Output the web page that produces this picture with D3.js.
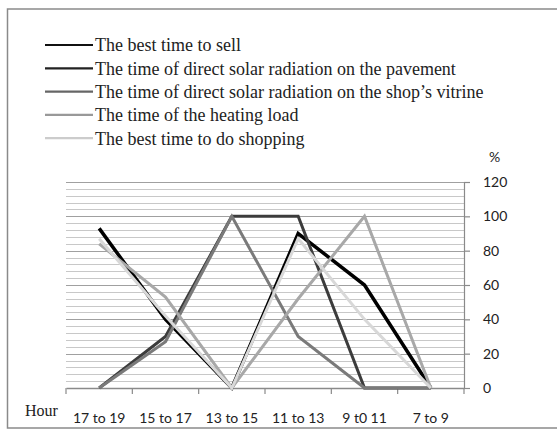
<!DOCTYPE html>
<html>
<head>
<meta charset="utf-8">
<script src="https://cdn.jsdelivr.net/npm/d3@7"></script>
<style>
  body { margin: 0; background: #fff; }
  svg { display: block; }
</style>
</head>
<body>
<div id="chart"></div>
<script>
(function () {
    // data
    var categories = ["17 to 19", "15 to 17", "13 to 15", "11 to 13", "9 t0 11", "7 to 9"];
    var seriesNames = [
        "The best time to sell",
        "The time of direct solar radiation on the pavement",
        "The time of direct solar radiation on the shop\u2019s vitrine",
        "The time of the heating load",
        "The best time to do shopping"
    ];
    var sellValues = [93, 40, 0, 90, 60, 0];
    var pavementValues = [0, 30, 100, 100, 0, 0];
    var vitrineValues = [0, 27, 100, 30, 0, 0];
    var heatingValues = [84, 53, 0, 52, 100, 0];
    var shoppingValues = [87, 42, 0, 87, 40, 0];
    var yTicks = [0, 20, 40, 60, 80, 100, 120];

    var seriesValues = [sellValues, pavementValues, vitrineValues, heatingValues, shoppingValues];
    var lineColors = ["#000000", "#3c3c3c", "#7a7a7a", "#a8a8a8", "#d8d8d8"];
    var legendColors = ["#111111", "#222222", "#666666", "#999999", "#cccccc"];

    var width = 557, height = 430;
    var left = 66, right = 464, top = 182, bottom = 388;

    var svg = d3.select("#chart").append("svg")
        .attr("width", width)
        .attr("height", height);

    // outer frame
    svg.append("rect")
        .attr("x", 7.5).attr("y", 9)
        .attr("width", 560).attr("height", 419)
        .attr("fill", "none")
        .attr("stroke", "#8a8a8a")
        .attr("stroke-width", 1.5);

    var x = d3.scaleBand().domain(categories).range([left, right]);
    var y = d3.scaleLinear().domain([0, 120]).range([bottom, top]);

    // gridlines, a minor one every 4 units
    var minor = d3.range(4, 121, 4);
    svg.append("g").selectAll("line")
        .data(minor)
        .enter().append("line")
        .attr("x1", left).attr("x2", right)
        .attr("y1", function (d) { return Math.round(y(d)) + 0.5; })
        .attr("y2", function (d) { return Math.round(y(d)) + 0.5; })
        .attr("stroke", function (d) { return d % 20 === 0 ? "#a0a0a0" : "#c8c8c8"; })
        .attr("stroke-width", 1.2);

    // right value axis
    var yAxis = svg.append("g")
        .attr("transform", "translate(" + right + ",0)")
        .call(d3.axisRight(y).tickValues(yTicks).tickSize(6).tickPadding(13));
    yAxis.select(".domain").attr("stroke", "#8a8a8a").attr("stroke-width", 1.2);
    yAxis.selectAll(".tick line").attr("stroke", "#8a8a8a").attr("stroke-width", 1.2);
    yAxis.selectAll("text")
        .attr("fill", "#222")
        .style("font-family", "Lato, 'Open Sans', sans-serif")
        .style("font-size", "14px");

    // category axis
    var xAxis = svg.append("g")
        .attr("transform", "translate(0," + bottom + ")")
        .call(d3.axisBottom(x).tickSize(0).tickPadding(25));
    xAxis.select(".domain").attr("stroke", "#8a8a8a").attr("stroke-width", 1.5);
    xAxis.selectAll("text")
        .attr("fill", "#222")
        .style("font-family", "Lato, 'Open Sans', sans-serif")
        .style("font-size", "14px");

    var bounds = categories.map(function (c) { return x(c); }).concat([right]);
    svg.append("g").selectAll("line")
        .data(bounds)
        .enter().append("line")
        .attr("x1", function (d) { return d; })
        .attr("x2", function (d) { return d; })
        .attr("y1", bottom).attr("y2", bottom + 6)
        .attr("stroke", "#8a8a8a")
        .attr("stroke-width", 1.2);

    // lines
    var line = d3.line()
        .x(function (d, i) { return x(categories[i]) + x.bandwidth() / 2; })
        .y(function (d) { return y(d); });

    svg.append("g").selectAll("path")
        .data(seriesValues)
        .enter().append("path")
        .attr("d", line)
        .attr("fill", "none")
        .attr("stroke", function (d, i) { return lineColors[i]; })
        .attr("stroke-width", function (d, i) { return i === 0 ? 3.5 : 3; })
        .attr("stroke-linejoin", "miter");

    // legend
    var legend = svg.append("g").selectAll("g")
        .data(seriesNames)
        .enter().append("g")
        .attr("transform", function (d, i) { return "translate(0," + (45 + i * 23.3) + ")"; });
    legend.append("line")
        .attr("x1", 45).attr("x2", 93)
        .attr("y1", 0).attr("y2", 0)
        .attr("stroke", function (d, i) { return legendColors[i]; })
        .attr("stroke-width", 2.2);
    legend.append("text")
        .attr("x", 95).attr("y", 0)
        .attr("dy", "0.35em")
        .attr("fill", "#222")
        .style("font-family", "'Liberation Serif', 'DejaVu Serif', serif")
        .style("font-size", "18px")
        .text(function (d) { return d; });

    // axis captions
    svg.append("text")
        .attr("x", 489).attr("y", 157).attr("dy", "0.35em")
        .attr("fill", "#222")
        .style("font-family", "Lato, sans-serif")
        .style("font-size", "14px")
        .text("%");
    svg.append("text")
        .attr("x", 25).attr("y", 410).attr("dy", "0.35em")
        .attr("fill", "#222")
        .style("font-family", "'Liberation Serif', serif")
        .style("font-size", "16px")
        .text("Hour");
}());
</script>
</body>
</html>
